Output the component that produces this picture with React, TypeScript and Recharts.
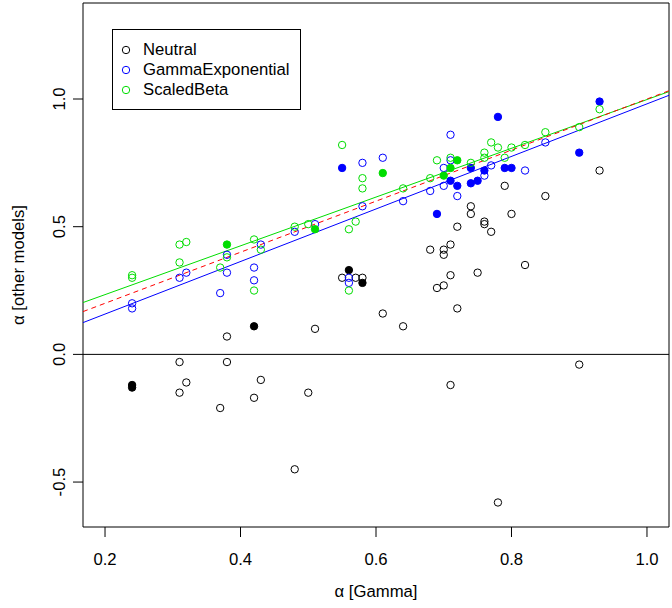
import React from 'react';
import { ScatterChart, Scatter, XAxis, YAxis, ReferenceLine, ReferenceArea, Legend } from 'recharts';

// ---- axis ticks / domains ----
const xTicks = [0.2, 0.4, 0.6, 0.8, 1.0];
const yTicks = [-0.5, 0, 0.5, 1.0];
const xDomain: [number, number] = [0.1675, 1.0325];
const yDomain: [number, number] = [-0.676, 1.376];

// ---- series names ----
const seriesNames = ['Neutral', 'GammaExponential', 'ScaledBeta'];

// ---- data: [alpha Gamma, alpha other model] ----
const neutralOpen: [number, number][] = [
  [0.31, -0.03], [0.31, -0.15], [0.32, -0.11], [0.37, -0.21], [0.38, -0.03], [0.38, 0.07],
  [0.42, -0.17], [0.43, -0.10], [0.48, -0.45], [0.50, -0.15], [0.51, 0.10], [0.55, 0.30],
  [0.57, 0.30], [0.58, 0.30], [0.61, 0.16], [0.64, 0.11], [0.68, 0.41], [0.69, 0.26],
  [0.70, 0.27], [0.70, 0.41], [0.70, 0.39], [0.71, 0.43], [0.71, 0.31], [0.71, -0.12],
  [0.72, 0.50], [0.72, 0.18], [0.74, 0.58], [0.74, 0.55], [0.75, 0.32], [0.76, 0.52],
  [0.76, 0.51], [0.77, 0.48], [0.78, -0.58], [0.79, 0.66], [0.80, 0.55], [0.82, 0.35],
  [0.85, 0.62], [0.90, -0.04], [0.93, 0.72],
];
const neutralFilled: [number, number][] = [
  [0.24, -0.12], [0.24, -0.13], [0.42, 0.11], [0.56, 0.33], [0.58, 0.28],
];
const gammaExpOpen: [number, number][] = [
  [0.24, 0.20], [0.24, 0.18], [0.31, 0.30], [0.32, 0.32], [0.37, 0.24], [0.38, 0.39],
  [0.38, 0.32], [0.42, 0.34], [0.42, 0.29], [0.43, 0.43], [0.48, 0.48], [0.51, 0.51],
  [0.56, 0.30], [0.56, 0.28], [0.58, 0.58], [0.58, 0.75], [0.61, 0.77], [0.64, 0.60],
  [0.68, 0.64], [0.70, 0.73], [0.70, 0.66], [0.71, 0.86], [0.71, 0.76], [0.72, 0.62],
  [0.76, 0.70], [0.77, 0.74], [0.82, 0.72], [0.85, 0.83],
];
const gammaExpFilled: [number, number][] = [
  [0.55, 0.73], [0.69, 0.55], [0.71, 0.68], [0.72, 0.66], [0.74, 0.73], [0.74, 0.67],
  [0.75, 0.68], [0.76, 0.72], [0.78, 0.93], [0.79, 0.73], [0.80, 0.73], [0.90, 0.79],
  [0.93, 0.99],
];
const scaledBetaOpen: [number, number][] = [
  [0.24, 0.31], [0.24, 0.30], [0.31, 0.43], [0.32, 0.44], [0.31, 0.36], [0.37, 0.34],
  [0.38, 0.38], [0.42, 0.45], [0.42, 0.25], [0.43, 0.41], [0.48, 0.50], [0.50, 0.51],
  [0.55, 0.82], [0.56, 0.49], [0.56, 0.25], [0.57, 0.52], [0.58, 0.69], [0.58, 0.65],
  [0.64, 0.65], [0.68, 0.69], [0.69, 0.76], [0.71, 0.77], [0.74, 0.75], [0.76, 0.79],
  [0.76, 0.77], [0.77, 0.83], [0.78, 0.81], [0.79, 0.77], [0.80, 0.81], [0.82, 0.82],
  [0.85, 0.87], [0.90, 0.89], [0.93, 0.96],
];
const scaledBetaFilled: [number, number][] = [
  [0.38, 0.43], [0.51, 0.49], [0.61, 0.71], [0.70, 0.70], [0.71, 0.73], [0.72, 0.76],
];

// ---- fitted lines (intercept, slope) ----
const identityLine = { intercept: 0, slope: 1 };
const gammaExpFit = { intercept: -0.048, slope: 1.029 };
const scaledBetaFit = { intercept: 0.043, slope: 0.955 };

// ---- styles ----
const FONT = '"Liberation Sans", Arial, Helvetica, sans-serif';
const FS = 16.7;
const C_NEUTRAL = '#000000';
const C_GAMMA = '#0000FF';
const C_BETA = '#00DD00';
const C_REF = '#FF0000';
const R = 3.7;

const toPts = (arr: [number, number][]) => arr.map(([x, y]) => ({ x, y }));

const openShape = (color: string) => (p: any) => (
  <circle cx={p.cx} cy={p.cy} r={R} fill="none" stroke={color} strokeWidth={1} />
);
const filledShape = (color: string) => (p: any) => (
  <circle cx={p.cx} cy={p.cy} r={R} fill={color} stroke={color} strokeWidth={1} />
);

const segment = (fit: { intercept: number; slope: number }) => [
  { x: xDomain[0], y: fit.intercept + fit.slope * xDomain[0] },
  { x: xDomain[1], y: fit.intercept + fit.slope * xDomain[1] },
];

const XTick = (p: any) => (
  <text x={p.x} y={p.y + 26} textAnchor="middle" fontFamily={FONT} fontSize={FS} fill="#000">
    {Number(p.payload.value).toFixed(1)}
  </text>
);
const YTick = (p: any) => (
  <text transform={`translate(${p.x - 6}, ${p.y}) rotate(-90)`} textAnchor="middle" fontFamily={FONT} fontSize={FS} fill="#000">
    {Number(p.payload.value).toFixed(1)}
  </text>
);

const XTitle = (p: any) => {
  const vb = p.viewBox || { x: 83, y: 527, width: 586, height: 81 };
  return (
    <text x={vb.x + vb.width / 2} y={vb.y + vb.height - 11} textAnchor="middle" fontFamily={FONT} fontSize={FS} fill="#000">
      α [Gamma]
    </text>
  );
};
const YTitle = (p: any) => {
  const vb = p.viewBox || { x: 0, y: 3, width: 83, height: 524 };
  return (
    <text transform={`translate(${vb.x + 24}, ${vb.y + vb.height / 2}) rotate(-90)`} textAnchor="middle" fontFamily={FONT} fontSize={FS} fill="#000">
      α [other models]
    </text>
  );
};

const legendColors = [C_NEUTRAL, C_GAMMA, C_BETA];
const renderLegend = () => (
  <div style={{ border: '1px solid #000', width: 187, height: 79, position: 'relative', fontFamily: FONT, fontSize: FS, color: '#000' }}>
    {seriesNames.map((n, i) => (
      <div key={n} style={{ position: 'absolute', left: 0, top: 10 + i * 20, height: 20, display: 'flex', alignItems: 'center', whiteSpace: 'nowrap' }}>
        <svg width={30} height={20} style={{ display: 'block' }}>
          <circle cx={13} cy={10} r={R} fill="none" stroke={legendColors[i]} strokeWidth={1} />
        </svg>
        <span style={{ lineHeight: '20px' }}>{n}</span>
      </div>
    ))}
  </div>
);

export default function App() {
  return (
    <div style={{ position: 'absolute', left: 0, top: 0, width: 672, height: 608, background: '#fff' }}>
      <ScatterChart width={672} height={608} margin={{ top: 3, right: 3, left: 0, bottom: 0 }}>
        <XAxis
          type="number"
          dataKey="x"
          domain={xDomain}
          ticks={xTicks}
          allowDataOverflow
          height={81}
          axisLine={false}
          tickSize={10}
          tickLine={{ stroke: '#000', strokeWidth: 1 }}
          tick={<XTick />}
          interval={0}
          label={<XTitle />}
        />
        <YAxis
          type="number"
          dataKey="y"
          domain={yDomain}
          ticks={yTicks}
          allowDataOverflow
          width={83}
          axisLine={false}
          tickSize={10}
          tickLine={{ stroke: '#000', strokeWidth: 1 }}
          tick={<YTick />}
          interval={0}
          label={<YTitle />}
        />
        <ReferenceArea x1={xDomain[0]} x2={xDomain[1]} y1={yDomain[0]} y2={yDomain[1]} fill="none" fillOpacity={0} stroke="#000" strokeWidth={1} ifOverflow="visible" />
        <ReferenceLine y={0} stroke="#000" strokeWidth={1} />
        <Legend
          layout="vertical"
          verticalAlign="middle"
          align="center"
          content={renderLegend}
          wrapperStyle={{ position: 'absolute', left: 112, top: 29, width: 189, height: 81 }}
        />
        <Scatter name="Neutral" data={toPts(neutralOpen)} shape={openShape(C_NEUTRAL)} isAnimationActive={false} legendType="none" />
        <Scatter name="Neutral filled" data={toPts(neutralFilled)} shape={filledShape(C_NEUTRAL)} isAnimationActive={false} legendType="none" />
        <Scatter name="GammaExponential" data={toPts(gammaExpOpen)} shape={openShape(C_GAMMA)} isAnimationActive={false} legendType="none" />
        <Scatter name="GammaExponential filled" data={toPts(gammaExpFilled)} shape={filledShape(C_GAMMA)} isAnimationActive={false} legendType="none" />
        <Scatter name="ScaledBeta" data={toPts(scaledBetaOpen)} shape={openShape(C_BETA)} isAnimationActive={false} legendType="none" />
        <Scatter name="ScaledBeta filled" data={toPts(scaledBetaFilled)} shape={filledShape(C_BETA)} isAnimationActive={false} legendType="none" />
        <ReferenceLine segment={segment(scaledBetaFit)} stroke={C_BETA} strokeWidth={1} ifOverflow="visible" />
        <ReferenceLine segment={segment(gammaExpFit)} stroke={C_GAMMA} strokeWidth={1} ifOverflow="visible" />
        <ReferenceLine segment={segment(identityLine)} stroke={C_REF} strokeWidth={1} strokeDasharray="5 4" ifOverflow="visible" />
      </ScatterChart>
    </div>
  );
}
